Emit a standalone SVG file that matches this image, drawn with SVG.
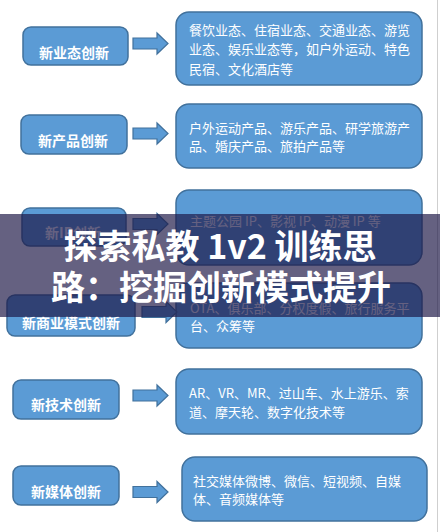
<svg xmlns="http://www.w3.org/2000/svg" width="440" height="532" viewBox="0 0 440 532">
<style>
.lbox{fill:#5b9bd5;stroke:#41719c;stroke-width:1.5}
.rbox{fill:#5b9bd5;stroke:#41719c;stroke-width:1.5}
.ltxt{font-family:"Noto Sans CJK SC","Liberation Sans",sans-serif;font-size:14px;font-weight:bold;fill:#ffffff;text-anchor:middle}
.rtxt{font-family:"Noto Sans CJK SC","Liberation Sans",sans-serif;font-size:13px;fill:#ffffff}
.arr{fill:#5b9bd5;stroke:#41719c;stroke-width:1.2}
.title{font-family:"Noto Sans CJK SC","Liberation Sans",sans-serif;font-size:34px;font-weight:bold;fill:#ffffff;text-anchor:middle}
</style>
<defs>
<path id="arrow" d="M0,-5.5 H24 V-10.5 L35,0 L24,10.5 V5.5 H0 Z"/>
</defs>
<rect x="0" y="0" width="440" height="532" fill="#ffffff"/>
<line x1="437.5" y1="0" x2="437.5" y2="532" stroke="#cfcfcf" stroke-width="1"/>

<g id="node-yetai">
<rect class="lbox" x="23" y="27" width="105" height="38" rx="8"/>
<text class="ltxt" x="74" y="57.5">新业态创新</text>
</g>
<g id="node-yetai-detail">
<rect class="rbox" x="176" y="12" width="246" height="73" rx="13"/>
<text class="rtxt" x="189" y="34.5">餐饮业态、住宿业态、交通业态、游览</text>
<text class="rtxt" x="189" y="54">业态、娱乐业态等，如户外运动、特色</text>
<text class="rtxt" x="189" y="73.5">民宿、文化酒店等</text>
</g>

<g id="node-chanpin">
<rect class="lbox" x="21" y="115" width="106" height="39" rx="8"/>
<text class="ltxt" x="73" y="145.5">新产品创新</text>
</g>
<g id="node-chanpin-detail">
<rect class="rbox" x="176" y="104" width="246" height="64" rx="13"/>
<text class="rtxt" x="189" y="133">户外运动产品、游乐产品、研学旅游产</text>
<text class="rtxt" x="189" y="151">品、婚庆产品、旅拍产品等</text>
</g>

<g id="node-ip">
<rect class="lbox" x="22" y="208" width="104" height="38" rx="8"/>
<text class="ltxt" x="73" y="237.5">新IP创新</text>
</g>
<g id="node-ip-detail">
<rect class="rbox" x="176" y="190" width="246" height="75" rx="13"/>
<text class="rtxt" x="190" y="226">主题公园 IP、影视 IP、动漫 IP 等</text>
</g>

<g id="node-shangye">
<rect class="lbox" x="7" y="295" width="128" height="41" rx="8"/>
<text class="ltxt" x="71" y="327.5">新商业模式创新</text>
</g>
<g id="node-shangye-detail">
<rect class="rbox" x="176" y="283" width="246" height="65" rx="13"/>
<text class="rtxt" x="190" y="313">OTA、俱乐部、分权度假、旅行服务平</text>
<text class="rtxt" x="190" y="331">台、众筹等</text>
</g>

<g id="node-jishu">
<rect class="lbox" x="13" y="380" width="106" height="39" rx="8"/>
<text class="ltxt" x="66" y="410">新技术创新</text>
</g>
<g id="node-jishu-detail">
<rect class="rbox" x="176" y="369" width="246" height="65" rx="13"/>
<text class="rtxt" x="189" y="398">AR、VR、MR、过山车、水上游乐、索</text>
<text class="rtxt" x="189" y="417">道、摩天轮、数字化技术等</text>
</g>

<g id="node-meiti">
<rect class="lbox" x="13" y="466" width="106" height="39" rx="8"/>
<text class="ltxt" x="66" y="497">新媒体创新</text>
</g>
<g id="node-meiti-detail">
<rect class="rbox" x="182" y="457" width="245" height="64" rx="13"/>
<text class="rtxt" x="193" y="486">社交媒体微博、微信、短视频、自媒</text>
<text class="rtxt" x="193" y="504">体、音频媒体等</text>
</g>

<g id="connectors">
<use href="#arrow" class="arr" x="133" y="43.5"/>
<use href="#arrow" class="arr" x="133" y="133.5"/>
<use href="#arrow" class="arr" x="133" y="224"/>
<use href="#arrow" class="arr" x="142" y="312"/>
<use href="#arrow" class="arr" x="133" y="395.5"/>
<use href="#arrow" class="arr" x="133" y="492"/>
</g>

<g id="title-banner">
<rect x="0" y="214" width="440" height="103" fill="#1c1646" fill-opacity="0.68"/>
<text class="title" x="220" y="259">探索私教 1v2 训练思</text>
<text class="title" x="221" y="300">路：挖掘创新模式提升</text>
</g>
</svg>
